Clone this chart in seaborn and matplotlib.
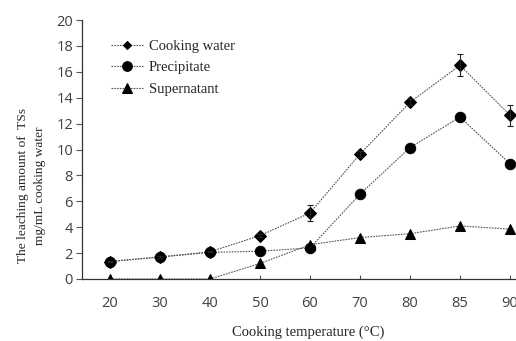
import matplotlib
matplotlib.use("Agg")
import matplotlib.pyplot as plt
import seaborn as sns
import pandas as pd
import numpy as np

temps = ["20", "30", "40", "50", "60", "70", "80", "85", "90"]
cooking_water = [1.35, 1.7, 2.1, 3.35, 5.1, 9.65, 13.65, 16.5, 12.65]
cooking_err = [0.05, 0.05, 0.05, 0.1, 0.6, 0.2, 0.25, 0.85, 0.8]
precipitate = [1.35, 1.7, 2.05, 2.15, 2.4, 6.55, 10.15, 12.5, 8.9]
supernatant = [0.0, 0.0, 0.0, 1.2, 2.65, 3.2, 3.5, 4.1, 3.85]

sns.set_style("white")
fig = plt.figure(figsize=(5.16, 3.41), dpi=100)
ax = fig.add_axes([82/516, 1-279/341, 453/516, 259/341])

pos = np.arange(len(temps))
df = pd.DataFrame({
    "pos": np.tile(pos, 3),
    "value": cooking_water + precipitate + supernatant,
    "series": ["Cooking water"]*9 + ["Precipitate"]*9 + ["Supernatant"]*9,
})

styles = {"Cooking water": ("D", 6.5), "Precipitate": ("o", 7.5), "Supernatant": ("^", 7.5)}
for name, (m, ms) in styles.items():
    sub = df[df.series == name]
    sns.lineplot(data=sub, x="pos", y="value", ax=ax, color="#555555",
                 linestyle=(0, (1.5, 1)), linewidth=0.8, marker=m, markersize=ms,
                 markerfacecolor="black", markeredgecolor="black", label=name)

ax.errorbar(pos, cooking_water, yerr=cooking_err, fmt="none", ecolor="#222222",
            elinewidth=0.8, capsize=2.5, capthick=0.8)

ax.set_xlim(-0.56, 8.5)
ax.set_ylim(0, 20)
ax.set_yticks(range(0, 21, 2))
ax.set_xticks(pos)
ax.set_xticklabels(temps)
for s in ["top", "right"]:
    ax.spines[s].set_visible(False)
for s in ["left", "bottom"]:
    ax.spines[s].set_color("#333333")
    ax.spines[s].set_linewidth(0.9)

ax.tick_params(axis="y", direction="out", length=4.5, width=0.8, color="#555555",
               labelsize=10.5, labelcolor="#404040", pad=2, left=True)
ax.tick_params(axis="x", direction="in", length=3, width=0.8, color="#555555",
               labelsize=10.5, labelcolor="#404040", pad=12, bottom=True)
for lab in ax.get_xticklabels() + ax.get_yticklabels():
    lab.set_fontfamily("Open Sans")

ax.set_xlabel("Cooking temperature (°C)", fontfamily="Liberation Serif", fontsize=10.5,
              labelpad=11)
ax.set_ylabel("The leaching amount of  TSs\nmg/mL cooking water", fontfamily="Liberation Serif",
              fontsize=9.6, linespacing=1.5)
ax.yaxis.set_label_coords(-0.08, 0.36)

leg = ax.legend(loc="upper left", bbox_to_anchor=(0.063, 0.925), frameon=False,
                prop={"family": "Liberation Serif", "size": 10.5},
                handlelength=2.26, handletextpad=0.35, labelspacing=0.59, borderaxespad=0,
                borderpad=0)
for h, s in zip(leg.legend_handles, [4.5, 7, 7]):
    h.set_markersize(s)

fig.savefig("out.png", dpi=100)
